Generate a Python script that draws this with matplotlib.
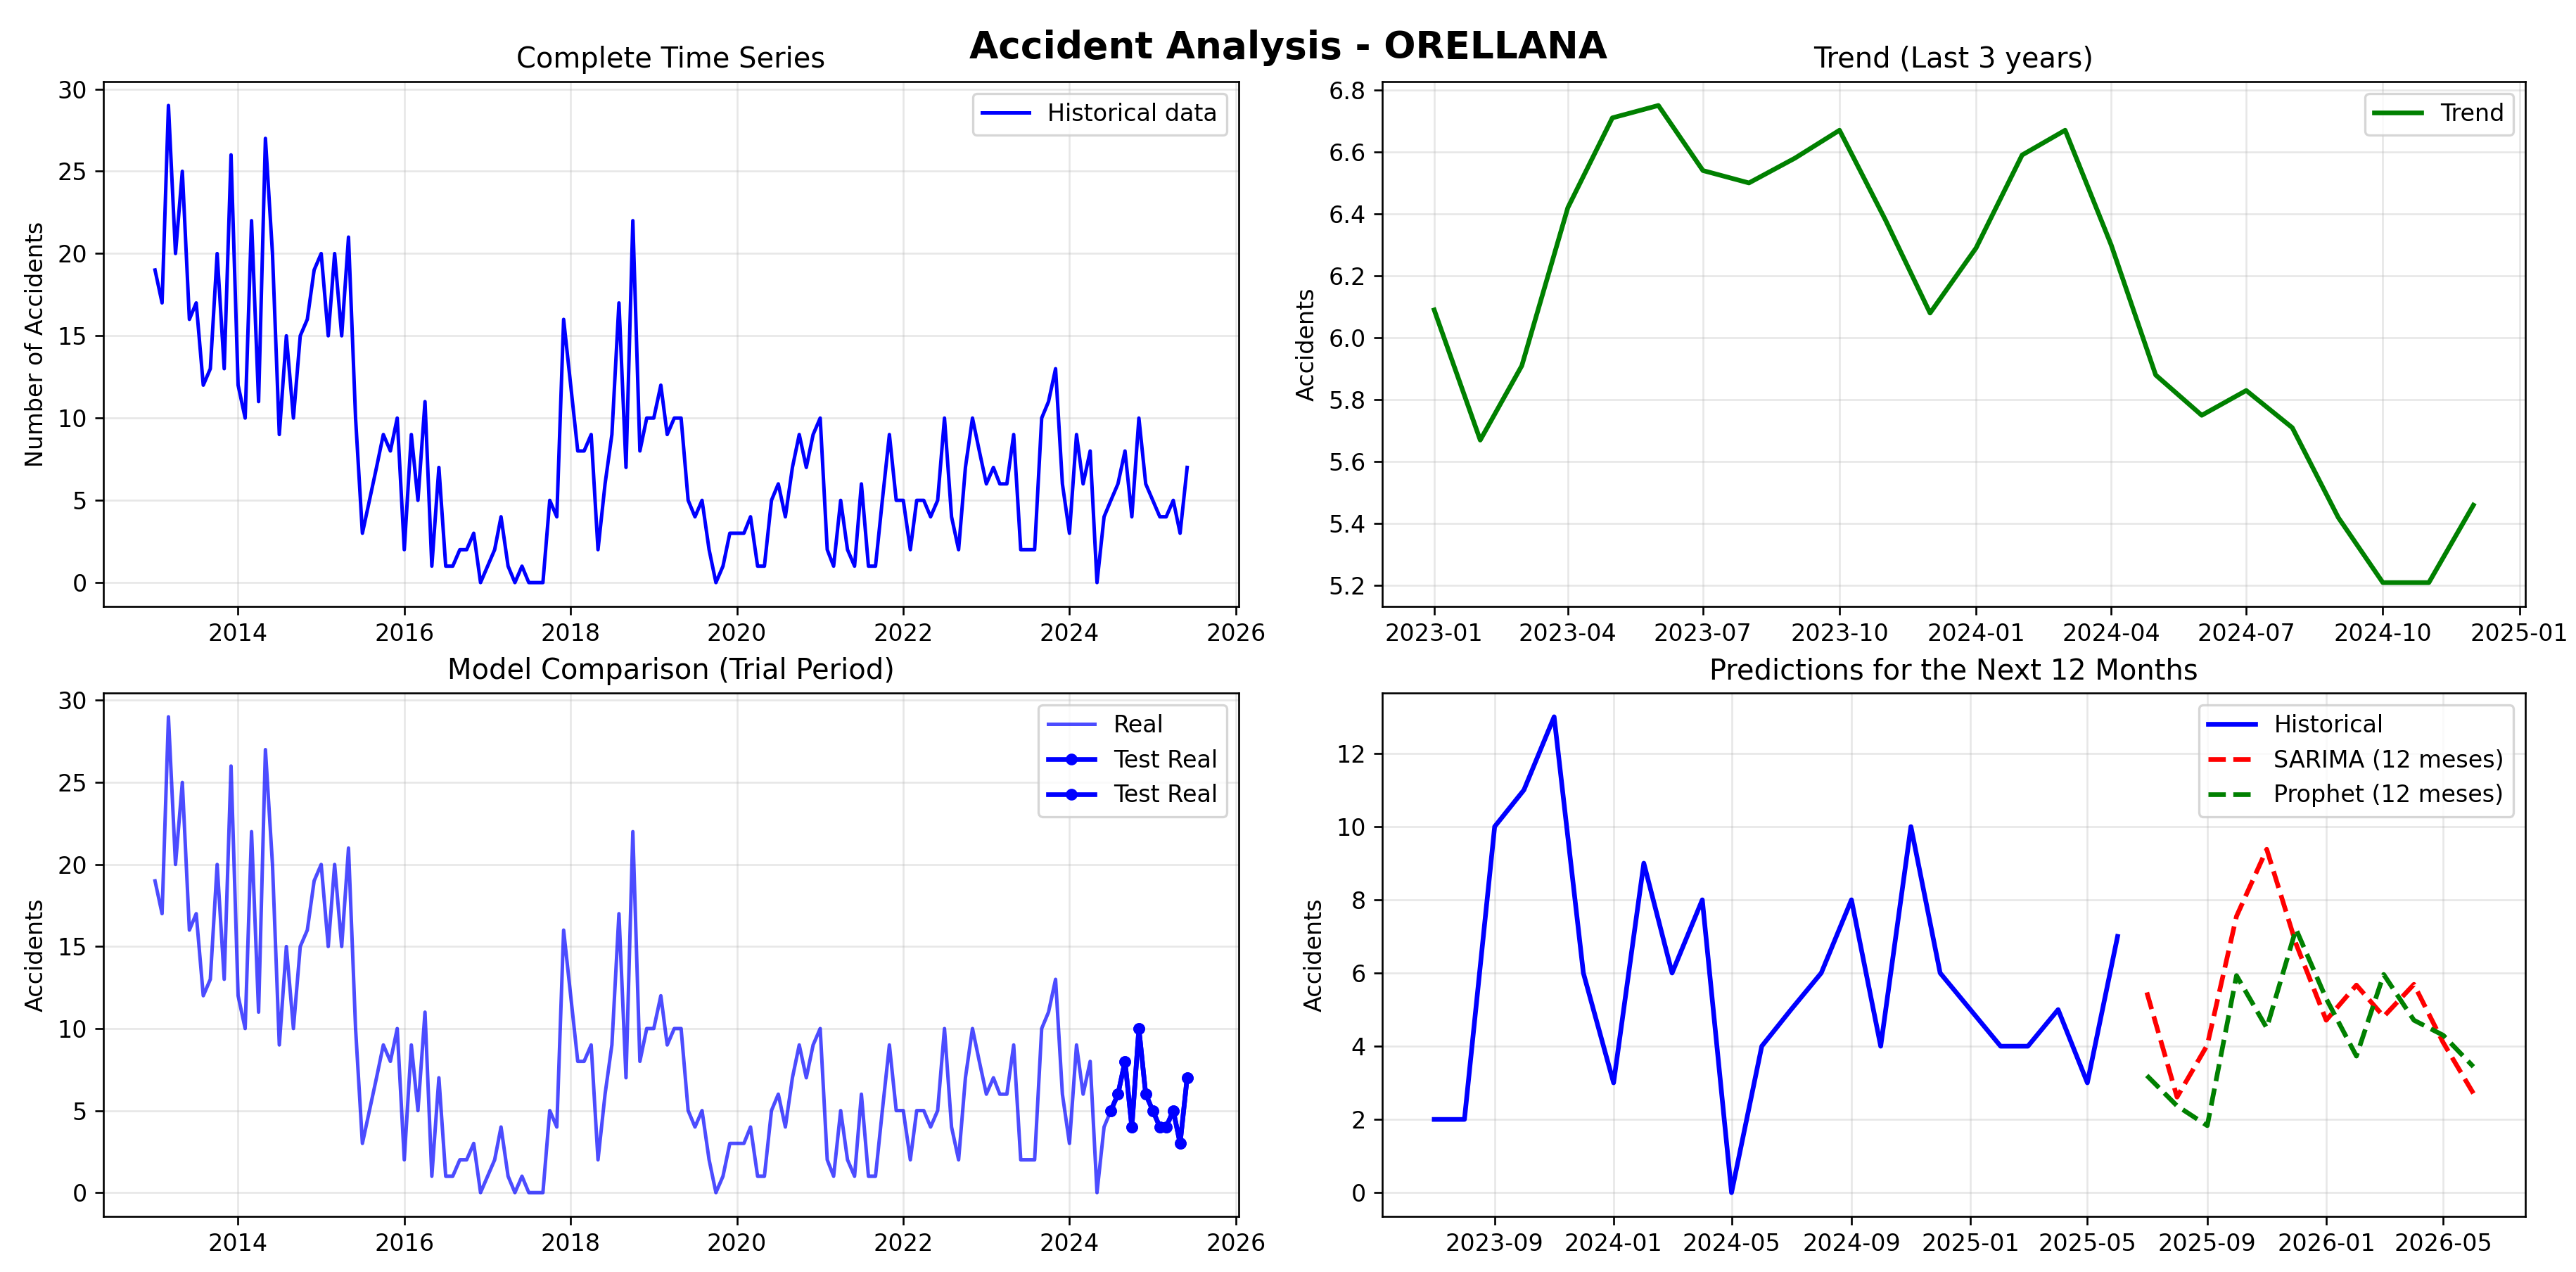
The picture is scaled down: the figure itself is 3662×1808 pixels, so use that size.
import matplotlib
matplotlib.use("Agg")
import matplotlib.pyplot as plt
import pandas as pd

# Monthly accidents, Jan 2013 - Jun 2025
accidents = [
    19, 17, 29, 20, 25, 16, 17, 12, 13, 20, 13, 26,   # 2013
    12, 10, 22, 11, 27, 20, 9, 15, 10, 15, 16, 19,    # 2014
    20, 15, 20, 15, 21, 10, 3, 5, 7, 9, 8, 10,        # 2015
    2, 9, 5, 11, 1, 7, 1, 1, 2, 2, 3, 0,              # 2016
    1, 2, 4, 1, 0, 1, 0, 0, 0, 5, 4, 16,              # 2017
    12, 8, 8, 9, 2, 6, 9, 17, 7, 22, 8, 10,           # 2018
    10, 12, 9, 10, 10, 5, 4, 5, 2, 0, 1, 3,           # 2019
    3, 3, 4, 1, 1, 5, 6, 4, 7, 9, 7, 9,               # 2020
    10, 2, 1, 5, 2, 1, 6, 1, 1, 5, 9, 5,              # 2021
    5, 2, 5, 5, 4, 5, 10, 4, 2, 7, 10, 8,             # 2022
    6, 7, 6, 6, 9, 2, 2, 2, 10, 11, 13, 6,            # 2023
    3, 9, 6, 8, 0, 4, 5, 6, 8, 4, 10, 6,              # 2024
    5, 4, 4, 5, 3, 7,                                 # 2025
]
start_month = "2013-01-01"

# Trend component, Jan 2023 - Dec 2024
trend = [6.09, 5.67, 5.91, 6.42, 6.71, 6.75, 6.54, 6.50, 6.58, 6.67, 6.38, 6.08,
         6.29, 6.59, 6.67, 6.30, 5.88, 5.75, 5.83, 5.71, 5.42, 5.21, 5.21, 5.46]
trend_start = "2023-01-01"

# 12-month forecasts, Jul 2025 - Jun 2026
sarima = [5.47, 2.61, 4.03, 7.55, 9.38, 6.8, 4.71, 5.67, 4.81, 5.69, 4.1, 2.71]
prophet = [3.20, 2.37, 1.83, 5.93, 4.50, 7.20, 5.3, 3.73, 5.96, 4.71, 4.3, 3.44]
forecast_start = "2025-07-01"

n_test = 12
n_recent = 24

dates = pd.date_range(start_month, periods=len(accidents), freq="MS")
trend_dates = pd.date_range(trend_start, periods=len(trend), freq="MS")
fc_dates = pd.date_range(forecast_start, periods=len(sarima), freq="MS")

dpi = 240
fig, axes = plt.subplots(2, 2, figsize=(3662 / dpi, 1808 / dpi), dpi=dpi)
fig.suptitle("Accident Analysis - ORELLANA", fontsize=16, fontweight="bold", y=0.977)

# Complete time series
ax = axes[0, 0]
ax.plot(dates, accidents, color="blue", linewidth=1.5, label="Historical data")
ax.set_title("Complete Time Series", fontsize=12)
ax.set_ylabel("Number of Accidents")
ax.legend(loc="upper right")
ax.grid(True, alpha=0.3)

# Trend
ax = axes[0, 1]
ax.plot(trend_dates, trend, color="green", linewidth=2, label="Trend")
ax.set_title("Trend (Last 3 years)", fontsize=12)
ax.set_ylabel("Accidents")
ax.legend(loc="upper right")
ax.grid(True, alpha=0.3)

# Model comparison
ax = axes[1, 0]
ax.plot(dates, accidents, color="blue", alpha=0.7, linewidth=1.5, label="Real")
ax.plot(dates[-n_test:], accidents[-n_test:], "o-", color="blue", linewidth=2,
        markersize=4, label="Test Real")
ax.plot(dates[-n_test:], accidents[-n_test:], "o-", color="blue", linewidth=2,
        markersize=4, label="Test Real")
ax.set_title("Model Comparison (Trial Period)", fontsize=12)
ax.set_ylabel("Accidents")
ax.legend(loc="upper right")
ax.grid(True, alpha=0.3)

# Predictions
ax = axes[1, 1]
ax.plot(dates[-n_recent:], accidents[-n_recent:], color="blue", linewidth=2, label="Historical")
ax.plot(fc_dates, sarima, "--", color="red", linewidth=2, label="SARIMA (12 meses)")
ax.plot(fc_dates, prophet, "--", color="green", linewidth=2, label="Prophet (12 meses)")
ax.set_title("Predictions for the Next 12 Months", fontsize=12)
ax.set_ylabel("Accidents")
ax.legend(loc="upper right")
ax.grid(True, alpha=0.3)

# Axes placement to match the reference layout
W, H = 3662, 1808
boxes = {
    (0, 0): (147, 1761, 116, 862),
    (0, 1): (1965, 3590, 116, 862),
    (1, 0): (147, 1761, 985, 1729),
    (1, 1): (1965, 3590, 985, 1729),
}
for (r, c), (x0, x1, y0, y1) in boxes.items():
    axes[r, c].set_position([x0 / W, 1 - y1 / H, (x1 - x0) / W, (y1 - y0) / H])

plt.savefig("out.png", dpi=dpi)
